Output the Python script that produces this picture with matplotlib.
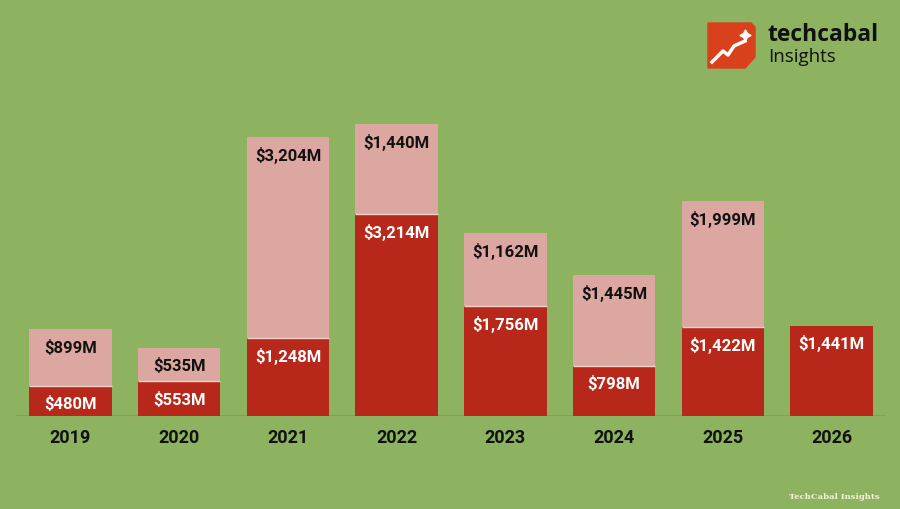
import matplotlib.pyplot as plt
from matplotlib.patches import Polygon
from matplotlib.lines import Line2D

years = ["2019", "2020", "2021", "2022", "2023", "2024", "2025", "2026"]
first_half = [480, 553, 1248, 3214, 1756, 798, 1422, 1441]
second_half = [899, 535, 3204, 1440, 1162, 1445, 1999, 0]

BG = "#8db260"
DARK = "#b8281a"
LIGHT = "#dca7a1"


def fmt(v):
    return f"${v:,}M"


fig = plt.figure(figsize=(9, 5.1), dpi=100, facecolor=BG)
ax = fig.add_axes([16 / 900, 93 / 510, 870 / 900, 377 / 510])
ax.set_facecolor(BG)

x = list(range(len(years)))
width = 0.76
ax.bar(x, first_half, width=width, color=DARK, zorder=2)
ax.bar(x, second_half, width=width, bottom=first_half, color=LIGHT, zorder=2,
       linewidth=0)

# thin light seam between the two parts
for i in x:
    if second_half[i] > 0:
        ax.plot([i - width / 2, i + width / 2], [first_half[i], first_half[i]],
                color="#f0d2cd", lw=1.0, zorder=3, solid_capstyle="butt")

lab_font = dict(family="Roboto", weight="bold", fontsize=12)
for i in x:
    ax.annotate(fmt(first_half[i]), (i, first_half[i]), xytext=(0, -12.5),
                textcoords="offset points", ha="center", va="center",
                color="white", **lab_font)
    if second_half[i] > 0:
        top = first_half[i] + second_half[i]
        ax.annotate(fmt(second_half[i]), (i, top), xytext=(0, -12.5),
                    textcoords="offset points", ha="center", va="center",
                    color="#111111", **lab_font)

ax.set_xlim(-0.5, len(years) - 0.5)
ax.set_ylim(0, 6010)
ax.axhline(0, color="#555555", lw=1.0, zorder=4)
ax.set_xticks(x)
ax.set_xticklabels(years, family="Roboto", weight="bold", fontsize=13, color="#111111")
ax.tick_params(axis="x", length=0, pad=9)
ax.set_yticks([])
for s in ax.spines.values():
    s.set_visible(False)

# logo
logo = Polygon([(708 / 900, 1 - 24 / 510), (751 / 900, 1 - 24 / 510),
                (755 / 900, 1 - 28 / 510), (755 / 900, 1 - 58 / 510),
                (745 / 900, 1 - 69 / 510), (708 / 900, 1 - 69 / 510)],
               closed=True, transform=fig.transFigure, color="#d9401c")
fig.patches.append(logo)
fig.lines.append(Line2D([712 / 900, 723 / 900, 728 / 900, 734 / 900, 745 / 900],
                        [1 - 63 / 510, 1 - 52 / 510, 1 - 56 / 510, 1 - 47 / 510, 1 - 42 / 510],
                        transform=fig.transFigure, color="white", lw=2.5))
fig.lines.append(Line2D([745 / 900], [1 - 36 / 510], transform=fig.transFigure,
                        marker=(4, 1, 0), markersize=8, color="white", lw=0))
fig.text(767 / 900, 1 - 35 / 510, "techcabal", family="Open Sans", weight="bold",
         fontsize=16.5, color="#111111", va="center")
fig.text(768 / 900, 1 - 57 / 510, "Insights", family="Open Sans",
         fontsize=13.5, color="#111111", va="center")

fig.text(880 / 900, 1 - 497 / 510, "TechCabal Insights", family="DejaVu Serif",
         weight="bold", fontsize=6, color="#f4f1dc", ha="right", va="center")

fig.savefig("out.png", dpi=100, facecolor=BG)
